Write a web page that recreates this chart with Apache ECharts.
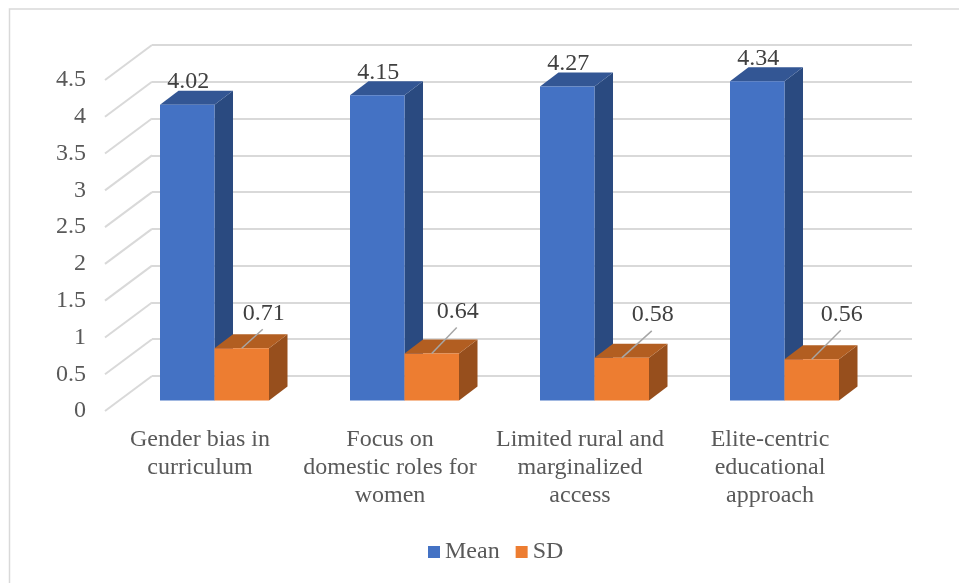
<!DOCTYPE html>
<html>
<head>
<meta charset="utf-8">
<style>html,body{margin:0;padding:0;background:#fff}#c{width:959px;height:583px}</style>
<script src="https://cdn.jsdelivr.net/npm/echarts@6/dist/echarts.min.js"></script>
</head>
<body>
<div id="c"></div>
<script>
const categories = ['Gender bias in\ncurriculum', 'Focus on\ndomestic roles for\nwomen', 'Limited rural and\nmarginalized\naccess', 'Elite-centric\neducational\napproach'];
const meanValues = [4.02, 4.15, 4.27, 4.34];
const sdValues = [0.71, 0.64, 0.58, 0.56];
const tickValues = [0, 0.5, 1, 1.5, 2, 2.5, 3, 3.5, 4, 4.5];

// layout of the pseudo-3D projection (pixels)
const FONT = '"Liberation Serif","Times New Roman",serif';
const WALL = { dx: 47, dy: -35 };
const BAR = { width: 54.5, dx: 18.5, dy: -14, planeDx: 14.5, planeDy: -10.5 };
const leaderDx = [21, 25, 30, 29];
const leaderDy = [-19, -26, -27, -29];
const palette = {
  Mean: { front: '#4472c4', top: '#335694', side: '#2a4a80' },
  SD: { front: '#ed7d31', top: '#b25e21', side: '#974f1d' }
};

function box(api, side, colors) {
  const idx = api.value(0), val = api.value(1);
  const top = api.coord([idx, val]);
  const base = api.coord([idx, 0]);
  const x0 = top[0] + BAR.planeDx + (side === 'l' ? -BAR.width : 0);
  const x1 = x0 + BAR.width;
  const yT = top[1] + BAR.planeDy, yB = base[1] + BAR.planeDy;
  const dx = BAR.dx, dy = BAR.dy;
  return {
    x0, x1, yT, yB,
    shapes: [
      { type: 'polygon', shape: { points: [[x1, yT], [x1 + dx, yT + dy], [x1 + dx, yB + dy], [x1, yB]] }, style: { fill: colors.side } },
      { type: 'polygon', shape: { points: [[x0, yT], [x0 + dx, yT + dy], [x1 + dx, yT + dy], [x1, yT]] }, style: { fill: colors.top } },
      { type: 'rect', shape: { x: x0, y: yT, width: BAR.width, height: yB - yT }, style: { fill: colors.front } }
    ]
  };
}
function valueLabel(text, x, y) {
  return { type: 'text', style: { text, x: x + 1, y, font: '24px ' + FONT, fill: '#404040', align: 'center', verticalAlign: 'middle' } };
}

const chart = echarts.init(document.getElementById('c'), null, { renderer: 'canvas' });
chart.setOption({
  animation: false,
  backgroundColor: '#fff',
  graphic: [{ type: 'rect', silent: true, z: -10, shape: { x: 9.5, y: 9, width: 1000, height: 640 }, style: { fill: '#fff', stroke: '#d9d9d9', lineWidth: 1.5 } }],
  legend: {
    data: ['Mean', 'SD'], left: 423, top: 535, icon: 'rect', itemWidth: 12, itemHeight: 12, itemGap: 16,
    selectedMode: false, textStyle: { fontFamily: FONT, fontSize: 24, color: '#595959' }
  },
  grid: [
    { left: 152, top: 45, width: 760, height: 331 },
    { left: 105, top: 80, width: 760, height: 331 }
  ],
  xAxis: [
    { gridIndex: 0, type: 'category', data: categories, show: false },
    {
      gridIndex: 1, type: 'category', data: categories,
      axisLine: { show: false }, axisTick: { show: false },
      axisLabel: { interval: 0, margin: 15, lineHeight: 28, fontFamily: FONT, fontSize: 24, color: '#595959' }
    }
  ],
  yAxis: [
    {
      gridIndex: 0, type: 'value', min: 0, max: 4.5, interval: 0.5,
      axisLine: { show: false }, axisTick: { show: false }, axisLabel: { show: false },
      splitLine: { show: true, lineStyle: { color: '#d9d9d9', width: 2 } }
    },
    {
      gridIndex: 1, type: 'value', min: 0, max: 4.5, interval: 0.5,
      axisLine: { show: false }, axisTick: { show: false }, splitLine: { show: false },
      axisLabel: { margin: 19, padding: [6, 0, 0, 0], fontFamily: FONT, fontSize: 24, color: '#595959' }
    }
  ],
  series: [
    {
      name: 'ticks', type: 'custom', xAxisIndex: 1, yAxisIndex: 1, silent: true, z: 1,
      data: tickValues.map(v => [0, v]),
      renderItem(params, api) {
        const y = api.coord([0, api.value(1)])[1], x = params.coordSys.x;
        return { type: 'line', shape: { x1: x, y1: y, x2: x + WALL.dx, y2: y + WALL.dy }, style: { stroke: '#d9d9d9', lineWidth: 2 } };
      }
    },
    {
      name: 'Mean', type: 'custom', xAxisIndex: 1, yAxisIndex: 1, z: 3,
      itemStyle: { color: palette.Mean.front },
      data: meanValues.map((v, i) => [i, v]),
      renderItem(params, api) {
        const b = box(api, 'l', palette.Mean);
        const t = valueLabel(String(api.value(1).toFixed(2)), (b.x0 + b.x1) / 2, b.yT - 23);
        return { type: 'group', children: b.shapes.concat([t]) };
      }
    },
    {
      name: 'SD', type: 'custom', xAxisIndex: 1, yAxisIndex: 1, z: 4,
      itemStyle: { color: palette.SD.front },
      data: sdValues.map((v, i) => [i, v]),
      renderItem(params, api) {
        const b = box(api, 'r', palette.SD);
        const i = params.dataIndex;
        const cx = (b.x0 + b.x1) / 2;
        const ex = cx + leaderDx[i], ey = b.yT + leaderDy[i];
        return {
          type: 'group',
          children: b.shapes.concat([
            { type: 'line', shape: { x1: cx, y1: b.yT, x2: ex, y2: ey }, style: { stroke: '#a6a6a6', lineWidth: 1.5 } },
            valueLabel(String(api.value(1).toFixed(2)), ex, ey - 16)
          ])
        };
      }
    }
  ]
});
</script>
</body>
</html>
